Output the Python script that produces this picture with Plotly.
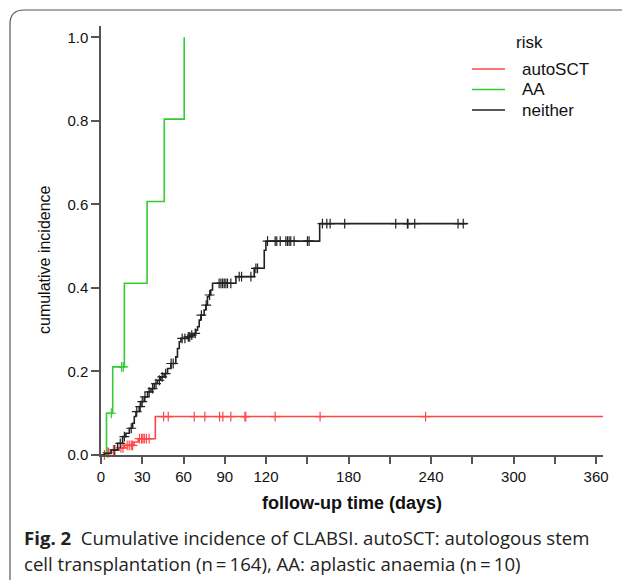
import plotly.graph_objects as go

# ---------------- data ----------------
# AA (aplastic anaemia)
aa_time = [0, 4, 8.5, 17, 33.5, 46, 60.5]
aa_cif = [0, 0.100, 0.211, 0.411, 0.607, 0.804, 1.000]
aa_censor = [7.5, 15.0, 16.2]

# autoSCT
auto_time = [0, 4, 7.5, 13, 17, 24, 27, 39.5, 365]
auto_cif = [0, 0.006, 0.012, 0.017, 0.023, 0.031, 0.039, 0.092, 0.092]
auto_censor = [2.5, 4.5, 5.5, 9, 14.5, 16, 19, 20.5, 22, 23, 28, 29.5, 30.5,
               31.5, 33, 35, 45.5, 48.9, 67.8, 75.5, 86.2, 88.6, 94.4, 104.6,
               105.3, 126.6, 159.3, 236]

# neither
nei_time = [0, 2.4, 7.3, 12.1, 15.7, 18.1, 20.6, 23.0, 24.2, 25.4, 27.8, 29.0,
            31.4, 33.9, 36.3, 38.7, 41.1, 43.5, 45.9, 48.4, 50.8, 54.4, 55.6,
            56.9, 58.1, 62.9, 65.3, 67.8, 69.0, 70.2, 71.4, 72.6, 75.0, 76.2,
            77.4, 78.6, 79.8, 81.1, 98.1, 111.4, 118.7, 119.9, 159.0, 266]
nei_cif = [0, 0.004, 0.012, 0.028, 0.044, 0.052, 0.064, 0.076, 0.092, 0.104,
           0.116, 0.128, 0.139, 0.151, 0.159, 0.171, 0.179, 0.187, 0.195,
           0.207, 0.219, 0.235, 0.255, 0.271, 0.279, 0.283, 0.287, 0.291,
           0.299, 0.307, 0.323, 0.335, 0.347, 0.359, 0.379, 0.383, 0.395,
           0.411, 0.427, 0.447, 0.490, 0.512, 0.554, 0.554]
nei_censor = [10, 14, 17, 22, 26, 28.5, 30, 32, 35, 37.5, 40, 42.5, 44.5, 47,
              51, 52.5, 59, 61, 63.5, 64.5, 66, 68.5, 73, 76.5, 79,
              85.9, 87.2, 88.4, 89.6, 90.8, 92.0, 94.4, 100.5, 102.2, 109,
              112.6, 113.8, 121.1, 126.6, 127.8, 130.3, 134.4, 135.6, 136.8,
              138, 140.4, 150.1, 151.3, 161, 164.2, 166.6, 177.2, 214.3, 222.8,
              223.2, 228.1, 259.6, 263.4]

x_tickvals = [0, 30, 60, 90, 120, 150, 180, 210, 240, 270, 300, 330, 360]
x_ticktext = ["0", "30", "60", "90", "120", "", "180", "", "240", "", "300", "", "360"]
y_tickvals = [0.0, 0.2, 0.4, 0.6, 0.8, 1.0]
y_ticktext = ["0.0", "0.2", "0.4", "0.6", "0.8", "1.0"]

series = [
    ("autoSCT", auto_time, auto_cif, auto_censor, "#ff4646"),
    ("AA", aa_time, aa_cif, aa_censor, "#33cc33"),
    ("neither", nei_time, nei_cif, nei_censor, "#222222"),
]

# the page places the figure 8px from the top-left corner of the window
OFF = 8
W, H = 630 - OFF, 580 - OFF


def px(x):
    return (x - OFF) / W


def py(y):
    return 1 - (y - OFF) / H


def step_at(times, vals, t):
    v = vals[0]
    for tt, vv in zip(times, vals):
        if tt <= t:
            v = vv
    return v


fig = go.Figure()
for name, t, c, cens, col in series:
    fig.add_trace(go.Scatter(x=t, y=c, mode="lines", line=dict(color=col, width=1.6, shape="hv"),
                             name=name, showlegend=False, hoverinfo="skip", cliponaxis=False))
    fig.add_trace(go.Scatter(x=cens, y=[step_at(t, c, ct) for ct in cens], mode="markers",
                             marker=dict(symbol="cross-thin-open", size=7, color=col,
                                         line=dict(color=col, width=1.2)),
                             showlegend=False, hoverinfo="skip", cliponaxis=False))

axis_col = "#555555"
tick_font = dict(family="Liberation Sans, Arial, sans-serif", size=15, color="#111111")

fig.update_layout(
    width=W, height=H,
    margin=dict(l=0, r=0, t=0, b=0),
    paper_bgcolor="white", plot_bgcolor="white",
    xaxis=dict(domain=[px(101), px(603)], range=[0, 365], tickvals=x_tickvals, ticktext=x_ticktext,
               showgrid=False, zeroline=False, showline=True, linecolor=axis_col, linewidth=1.5,
               ticks="outside", ticklen=7, tickwidth=1.5, tickcolor=axis_col, tickfont=tick_font,
               automargin=False, fixedrange=True),
    yaxis=dict(domain=[py(455), py(26)], range=[0, 1.027], tickvals=y_tickvals, ticktext=y_ticktext,
               showgrid=False, zeroline=False, showline=True, linecolor=axis_col, linewidth=1.5,
               ticks="outside", ticklen=8, tickwidth=1.5, tickcolor=axis_col, tickfont=tick_font,
               automargin=False, fixedrange=True),
)

# axis titles
fig.add_annotation(x=px(352), y=py(503), xref="paper", yref="paper", showarrow=False,
                   xanchor="center", yanchor="middle",
                   text="<b>follow-up time (days)</b>",
                   font=dict(family="Liberation Sans, Arial, sans-serif", size=18, color="#111111"))
fig.add_annotation(x=px(44), y=py(260), xref="paper", yref="paper", showarrow=False, textangle=-90,
                   xanchor="center", yanchor="middle",
                   text="cumulative incidence",
                   font=dict(family="Liberation Sans, Arial, sans-serif", size=16, color="#111111"))

# legend (manual)
leg_font = dict(family="Liberation Sans, Arial, sans-serif", size=17, color="#111111")
fig.add_annotation(x=px(529), y=py(42), xref="paper", yref="paper", showarrow=False,
                   xanchor="center", yanchor="middle", text="risk", font=leg_font)
for i, (name, t, c, cens, col) in enumerate(series):
    yy = 69 + 20.5 * i
    fig.add_shape(type="line", xref="paper", yref="paper", x0=px(472), x1=px(505), y0=py(yy), y1=py(yy),
                  line=dict(color=col, width=1.6))
    fig.add_annotation(x=px(520), y=py(yy), xref="paper", yref="paper", showarrow=False,
                       xanchor="left", yanchor="middle", text=name, font=leg_font)

# caption
cap_font = dict(family="Open Sans, Noto Sans, sans-serif", size=18.6, color="#222222")
fig.add_annotation(x=px(22), y=py(537), xref="paper", yref="paper", showarrow=False,
                   xanchor="left", yanchor="middle",
                   text="<b>Fig. 2</b>\u00a0\u00a0Cumulative incidence of CLABSI. autoSCT: autologous stem",
                   font=cap_font)
fig.add_annotation(x=px(22), y=py(563), xref="paper", yref="paper", showarrow=False,
                   xanchor="left", yanchor="middle",
                   text="cell transplantation (n\u2009=\u2009164), AA: aplastic anaemia (n\u2009=\u200910)",
                   font=cap_font)

# rounded frame
frame = (f"M {px(10)},{py(590)} L {px(10)},{py(24)} Q {px(10)},{py(10)} {px(24)},{py(10)} "
         f"L {px(640)},{py(10)}")
fig.add_shape(type="path", xref="paper", yref="paper", path=frame,
              line=dict(color="#555555", width=1.2))

fig.write_html("out.html")
